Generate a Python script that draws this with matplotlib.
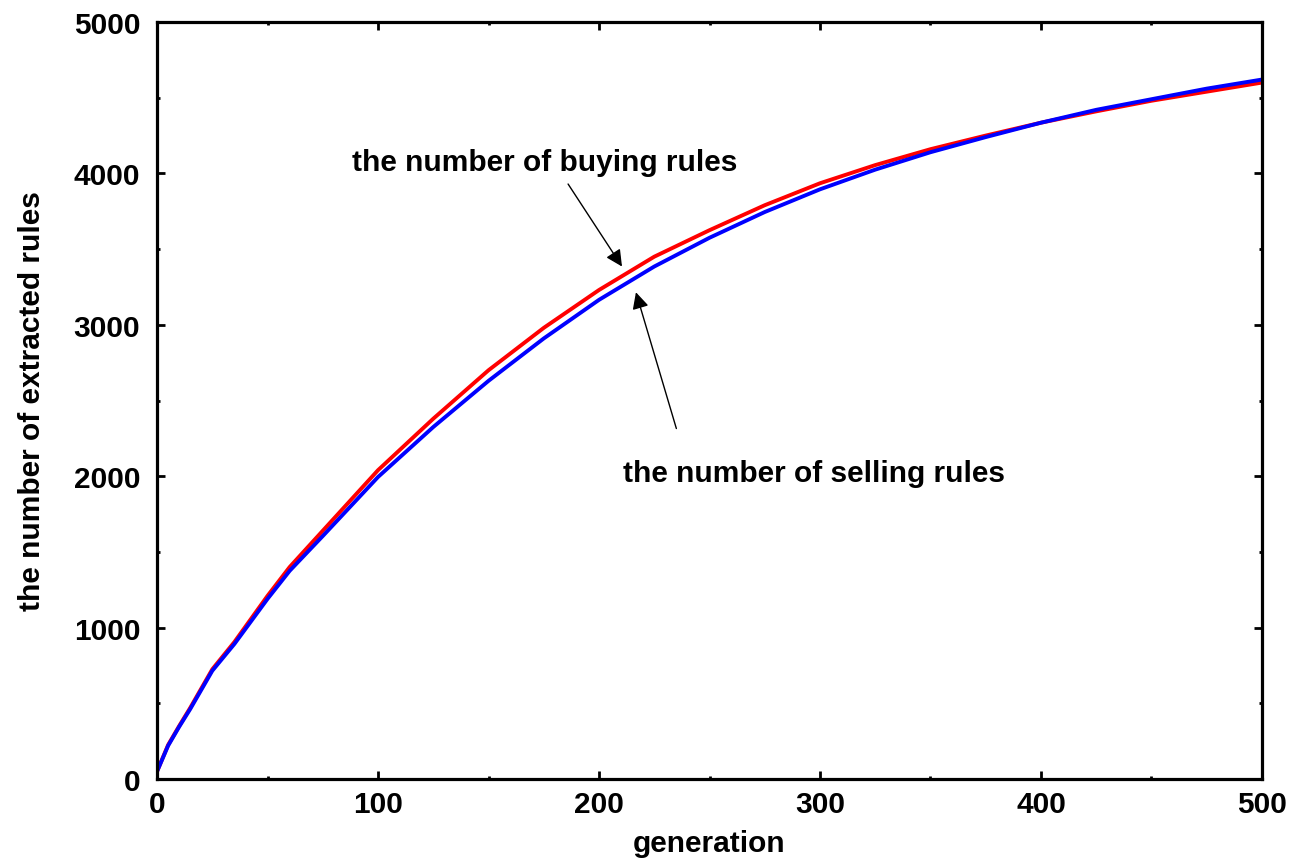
import numpy as np
import matplotlib.pyplot as plt
from matplotlib.ticker import MultipleLocator

plt.rcParams['font.family'] = ['Liberation Sans', 'DejaVu Sans']
plt.rcParams['font.weight'] = 'bold'

# number of extracted rules per generation
generation = [0, 5, 10, 15, 25, 35, 50, 60, 75, 100, 125, 150, 175, 200, 225,
              250, 275, 300, 325, 350, 375, 400, 425, 450, 475, 500]
buying = [50, 225, 350, 470, 725, 905, 1210, 1400, 1640, 2040, 2380, 2700,
          2980, 3230, 3450, 3625, 3790, 3935, 4055, 4160, 4250, 4335, 4410,
          4480, 4540, 4600]
selling = [50, 220, 345, 462, 715, 892, 1190, 1375, 1605, 1995, 2325, 2630,
           2910, 3165, 3385, 3575, 3745, 3895, 4025, 4140, 4240, 4335, 4420,
           4490, 4560, 4620]

fig = plt.figure(figsize=(12.99, 8.62), dpi=100)
ax = fig.add_axes([0.1209, 0.0951, 0.8506, 0.8782])

ax.plot(generation, buying, color='#ff0000', lw=2.8)
ax.plot(generation, selling, color='#0000ff', lw=2.8)

ax.set_xlim(0, 500)
ax.set_ylim(0, 5000)
ax.xaxis.set_major_locator(MultipleLocator(100))
ax.xaxis.set_minor_locator(MultipleLocator(50))
ax.yaxis.set_major_locator(MultipleLocator(1000))
ax.yaxis.set_minor_locator(MultipleLocator(500))
ax.tick_params(which='both', direction='in', top=True, right=True, width=2)
ax.tick_params(which='major', length=6, labelsize=21.5)
ax.tick_params(axis='y', which='major', pad=12)
ax.tick_params(axis='x', which='major', pad=8)
ax.tick_params(which='minor', length=2.5)
for s in ax.spines.values():
    s.set_linewidth(2.3)

ax.set_xlabel("generation", fontsize=21.5, fontweight='bold', labelpad=8)
ax.set_ylabel("the number of extracted rules", fontsize=21.5,
              fontweight='bold', labelpad=20)

# labels and their pointer arrows
arrow = dict(arrowstyle='-|>', color='black', lw=1, mutation_scale=25,
             shrinkA=0, shrinkB=0)
ax.text(88, 4075, "the number of buying rules", fontsize=21.5,
        fontweight='bold', va='center', ha='left')
ax.annotate("", xy=(210.4, 3385), xytext=(186, 3930), arrowprops=arrow)
ax.text(211, 2020, "the number of selling rules", fontsize=21.5,
        fontweight='bold', va='center', ha='left')
ax.annotate("", xy=(216.7, 3215), xytext=(235, 2315), arrowprops=arrow)

plt.savefig("out.png", dpi=100)
